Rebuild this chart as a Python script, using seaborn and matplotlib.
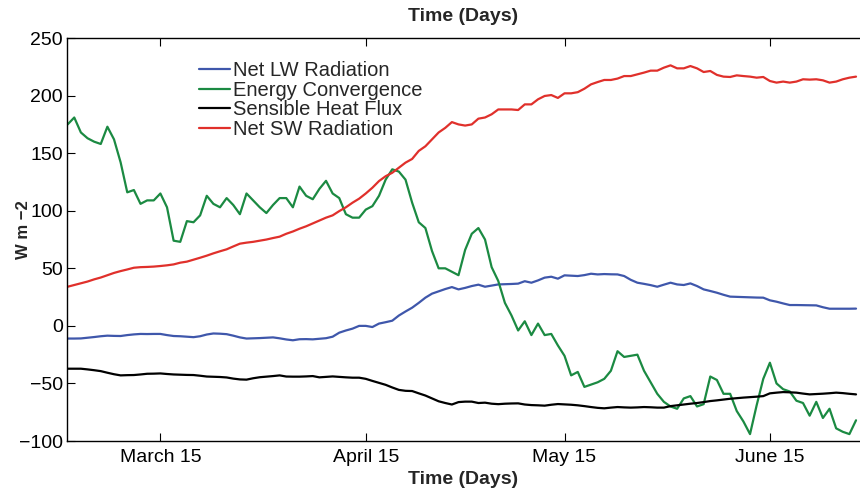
import numpy as np
import pandas as pd
import matplotlib
matplotlib.use("Agg")
import matplotlib.pyplot as plt
import matplotlib.dates as mdates
import seaborn as sns

# Daily surface energy budget terms, 1 March - 28 June
dates = pd.date_range("2000-03-01", periods=120, freq="D")

net_lw = [
    -11, -11, -10.9, -10.3, -9.7, -9, -8.5, -8.7, -8.8, -8, -7.4, -7, -7.1, -7, -7,
    -8, -8.8, -9, -9.4, -9.8, -9, -7.5, -6.6, -6.8, -7.2, -8.5, -10, -11, -10.8, -10.6,
    -10.3, -10, -10.8, -11.8, -12.5, -11.6, -11.5, -11.7, -11.2, -10.7, -9.4, -5.9, -4, -2.4, 0,
    0, -1, 2, 3.2, 4.5, 9, 12.5, 15.8, 20, 24.5, 28, 30, 32, 33.7, 31.7,
    33, 34.6, 35.8, 34, 35, 36, 36.2, 36.4, 36.7, 38.8, 37.5, 39.5, 41.9, 42.7, 41,
    43.9, 43.6, 43.3, 44.1, 45.3, 44.7, 45, 44.8, 44.7, 43.3, 40, 37.5, 36.5, 35.4, 34,
    35.8, 37.5, 36, 35.5, 36.9, 34.6, 31.7, 30.3, 28.8, 27, 25.4, 25.2, 25, 24.8, 24.6,
    24.5, 22.2, 21, 19.5, 18.1, 18.1, 18, 17.9, 17.8, 16.2, 14.9, 14.9, 14.9, 14.9, 15,
]

energy_conv = [
    175, 181, 168, 163, 160, 158, 173, 162, 142, 116, 118, 106, 109, 109, 115,
    103, 74, 73, 91, 90, 96, 113, 106, 103, 111, 105, 97, 115, 109, 103,
    98, 105, 111, 111, 103, 121, 113, 110, 119, 126, 115, 111, 97, 94, 94,
    101, 104, 113, 127, 136, 134, 127, 107, 90, 85, 65, 50, 50, 47, 44,
    66, 80, 85, 75, 51, 39, 20, 9, -4, 4, -8, 2, -8, -7, -17,
    -26, -43, -40, -53, -51, -49, -46, -39, -22, -27, -26, -25, -39, -49, -59,
    -66, -70, -72, -63, -61, -70, -68, -44, -47, -59, -59, -74, -83, -94, -69,
    -46, -32, -50, -55, -57, -65, -67, -78, -66, -80, -72, -89, -92, -94, -82,
]

sensible_heat = [
    -37.2, -37.2, -37.2, -37.8, -38.5, -39.3, -40.7, -42, -43, -42.8, -42.7, -42.2, -41.6, -41.5, -41.3,
    -41.8, -42.2, -42.4, -42.6, -42.7, -43.3, -44, -44.2, -44.4, -44.8, -45.8, -46.5, -46.7, -45.5, -44.6,
    -44.1, -43.6, -43, -44, -44.1, -44.1, -43.9, -43.6, -44.7, -44.3, -43.9, -44.3, -44.7, -45, -45,
    -46, -47.8, -49.5, -51.2, -53.5, -55.6, -56.4, -56.6, -58.6, -60.5, -63, -65.5, -67, -68.3, -66.2,
    -65.8, -65.8, -67, -66.7, -67.6, -68, -67.6, -67.4, -67.3, -68.3, -68.8, -69, -69.3, -68.5, -67.9,
    -68.2, -68.5, -69, -69.7, -70.5, -71.2, -71.6, -71, -70.5, -70.8, -71, -70.8, -70.5, -70.7, -71,
    -71, -69.7, -69, -68.3, -67.6, -67, -66.2, -65.3, -64.7, -64, -63.3, -62.8, -62.3, -61.9, -61.5,
    -61, -58.6, -58, -57.5, -57.7, -58, -58.8, -59.5, -59.2, -58.9, -58.5, -58, -58.4, -59, -59.5,
]

net_sw = [
    34, 35.5, 37, 38.5, 40.4, 42, 44, 46, 47.6, 49, 50.5, 51, 51.2, 51.5, 52,
    52.6, 53.4, 54.9, 55.8, 57.5, 59.2, 61, 63, 64.8, 66.5, 69, 71.4, 72.3, 73, 74,
    75, 76.3, 77.5, 80, 82, 84.4, 86.5, 89, 91.5, 94, 96, 99.7, 103, 107, 110.5,
    115, 120, 125.8, 130, 133, 137.4, 141.8, 145, 152, 156, 162, 168, 172, 177, 175,
    174, 175, 180, 181, 183.8, 188, 188, 188, 187.5, 192.4, 192.4, 196.8, 199.7, 200.5, 198,
    202, 202, 203, 206, 209.8, 211.8, 213.6, 213.6, 214.8, 217, 217, 218.5, 220, 221.7, 221.7,
    224.3, 226.3, 223.7, 223.7, 225.7, 223.7, 220.5, 221.4, 218, 216.5, 216.2, 217.6, 217, 216.5, 215.6,
    216.2, 212.7, 211.3, 212.2, 211.3, 212.2, 214.2, 213.9, 214.2, 213.3, 211.3, 212.2, 214.2, 215.6, 216.5,
]

series_names = ["Net LW Radiation", "Energy Convergence", "Sensible Heat Flux", "Net SW Radiation"]
series_colors = ["#3F57AB", "#1B8A42", "#000000", "#E0302B"]

tick_dates = pd.to_datetime(["2000-03-15", "2000-04-15", "2000-05-15", "2000-06-15"])
tick_labels = ["March 15", "April 15", "May 15", "June 15"]
y_ticks = [-100, -50, 0, 50, 100, 150, 200, 250]

df = pd.concat(
    [
        pd.DataFrame({"date": dates, "flux": vals, "term": name})
        for name, vals in zip(series_names, [net_lw, energy_conv, sensible_heat, net_sw])
    ],
    ignore_index=True,
)

sns.set_theme(style="ticks")
plt.rcParams["font.family"] = ["Liberation Sans", "DejaVu Sans"]

fig = plt.figure(figsize=(8.6, 4.88), dpi=100)
ax = fig.add_axes([0.078, 0.0963, 0.922, 0.8257])

sns.lineplot(
    data=df, x="date", y="flux", hue="term", hue_order=series_names,
    palette=series_colors, linewidth=1.6, ax=ax,
)

ax.set_xlim(dates[0] - pd.Timedelta(hours=2), dates[0] + pd.Timedelta(days=119.6))
ax.set_ylim(-100, 250)
ax.set_yticks(y_ticks)
ax.set_xticks(mdates.date2num(tick_dates))
ax.set_xticklabels(tick_labels)

for side in ["top", "bottom", "left"]:
    ax.spines[side].set_linewidth(1.0)
    ax.spines[side].set_color("black")
ax.spines["right"].set_visible(False)

ax.tick_params(axis="x", direction="in", top=True, bottom=True, length=6, width=0.8,
               labelsize=14, pad=6, colors="black")
ax.tick_params(axis="y", direction="in", left=True, right=False, length=6, width=0.8,
               labelsize=14, pad=3, colors="black")

ax.set_xlabel("Time (Days)", fontsize=14, fontweight="bold", labelpad=3)
ax.set_ylabel("W m −2", fontsize=12, fontweight="bold")
ax.yaxis.set_label_coords(-0.046, 0.524)
ax.set_title("Time (Days)", fontsize=14, fontweight="bold", pad=12)

ax.legend(
    frameon=False, loc="upper left", bbox_to_anchor=(0.1665, 0.942),
    borderaxespad=0, borderpad=0, fontsize=14.5, handlelength=1.55,
    handletextpad=0.15, labelspacing=0.02,
)

fig.savefig("out.png", dpi=100)
